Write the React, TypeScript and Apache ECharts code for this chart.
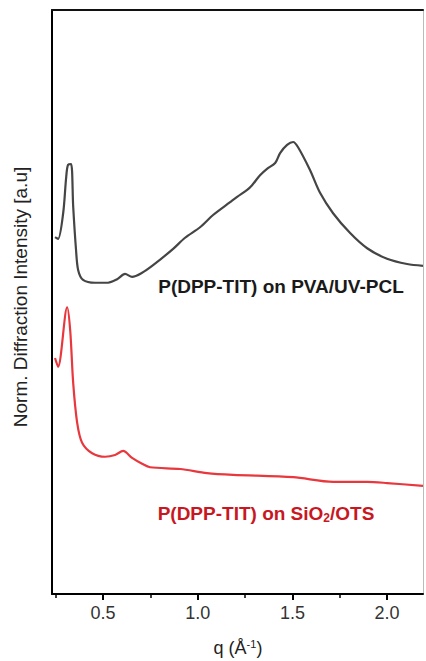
import React, { useEffect, useRef } from "react";
import * as echarts from "echarts";

const qBlack = [0.246, 0.262, 0.289, 0.305, 0.315, 0.331, 0.342, 0.357, 0.368, 0.394, 0.458, 0.526, 0.574, 0.616, 0.653, 0.706, 0.764, 0.87, 0.933, 1.012, 1.081, 1.171, 1.208, 1.261, 1.287, 1.329, 1.366, 1.409, 1.435, 1.472, 1.504, 1.53, 1.593, 1.646, 1.715, 1.805, 1.895, 2.0, 2.106, 2.19];
const iBlack = [61.1, 60.8, 65.2, 71.4, 73.5, 73.6, 66.3, 58.9, 55.5, 53.8, 53.3, 53.3, 53.9, 54.8, 54.3, 55.0, 56.3, 59.1, 61.0, 62.8, 64.9, 67.1, 68.0, 69.2, 70.0, 71.7, 72.8, 73.8, 75.5, 76.9, 77.4, 76.5, 72.6, 68.7, 65.2, 61.8, 59.2, 57.4, 56.5, 56.2];

const qRed = [0.246, 0.262, 0.31, 0.326, 0.342, 0.363, 0.389, 0.442, 0.511, 0.563, 0.606, 0.653, 0.706, 0.748, 0.907, 1.049, 1.187, 1.504, 1.715, 1.895, 2.0, 2.19];
const iRed = [40.4, 38.9, 49.1, 45.2, 36.1, 29.3, 25.9, 24.1, 23.5, 23.8, 24.5, 23.3, 22.3, 21.7, 21.4, 20.7, 20.4, 20.0, 19.2, 19.2, 19.0, 18.5];

const majorTicks = [0.5, 1.0, 1.5, 2.0];
const minorTicks = [0.25, 0.75, 1.25, 1.75];

const labelBlack = "P(DPP-TIT) on PVA/UV-PCL";
const yTitle = "Norm. Diffraction Intensity [a.u]";

const FONT = "'Liberation Sans', Arial, sans-serif";

export default function App() {
  const ref = useRef<HTMLDivElement>(null);
  useEffect(() => {
    if (!ref.current) return;
    const chart = echarts.init(ref.current, null, { renderer: "svg" });
    const xMin = 0.23;
    const xMax = 2.19;
    chart.setOption({
      animation: false,
      backgroundColor: "#ffffff",
      grid: { left: 52, top: 10, right: 3, bottom: 67, containLabel: false },
      xAxis: [
        {
          type: "value",
          min: xMin,
          max: xMax,
          position: "bottom",
          axisLine: { show: true, onZero: false, lineStyle: { color: "#000", width: 2 } },
          axisTick: { show: true, customValues: majorTicks, length: 6, inside: false, lineStyle: { color: "#000", width: 2 } },
          axisLabel: {
            show: true,
            customValues: majorTicks,
            formatter: (v: number) => v.toFixed(1),
            fontFamily: FONT,
            fontSize: 18,
            color: "#333",
            margin: 10,
          },
          splitLine: { show: false },
        },
        {
          type: "value",
          min: xMin,
          max: xMax,
          position: "bottom",
          offset: 0,
          axisLine: { show: false },
          axisTick: { show: true, customValues: minorTicks, length: 4, lineStyle: { color: "#000", width: 1.5 } },
          axisLabel: { show: false },
          splitLine: { show: false },
        },
        {
          type: "value",
          min: xMin,
          max: xMax,
          position: "top",
          axisLine: { show: true, onZero: false, lineStyle: { color: "#111", width: 2 } },
          axisTick: { show: false },
          axisLabel: { show: false },
          splitLine: { show: false },
        },
      ],
      yAxis: [
        {
          type: "value",
          min: 0,
          max: 100,
          position: "left",
          axisLine: { show: true, onZero: false, lineStyle: { color: "#000", width: 2 } },
          axisTick: { show: false },
          axisLabel: { show: false },
          splitLine: { show: false },
        },
        {
          type: "value",
          min: 0,
          max: 100,
          position: "right",
          axisLine: { show: true, onZero: false, lineStyle: { color: "#bbbbbb", width: 1 } },
          axisTick: { show: false },
          axisLabel: { show: false },
          splitLine: { show: false },
        },
      ],
      series: [
        {
          type: "line",
          xAxisIndex: 0,
          yAxisIndex: 0,
          data: qBlack.map((q, i) => [q, iBlack[i]]),
          showSymbol: false,
          smooth: 0.3,
          lineStyle: { color: "#454545", width: 2.2 },
        },
        {
          type: "line",
          xAxisIndex: 0,
          yAxisIndex: 0,
          data: qRed.map((q, i) => [q, iRed[i]]),
          showSymbol: false,
          smooth: 0.3,
          lineStyle: { color: "#e8383e", width: 2.2 },
        },
      ],
      graphic: [
        {
          type: "text",
          x: 281,
          y: 286,
          style: {
            text: labelBlack,
            fontFamily: FONT,
            fontWeight: "bold",
            fontSize: 19,
            fill: "#1a1a1a",
            align: "center",
            verticalAlign: "middle",
          },
        },
        {
          type: "text",
          x: 266,
          y: 513,
          style: {
            text: "{a|P(DPP-TIT) on SiO}{s|2}{a|/OTS}",
            align: "center",
            verticalAlign: "middle",
            rich: {
              a: { fontFamily: FONT, fontWeight: "bold", fontSize: 19, fill: "#c8171e", color: "#c8171e" },
              s: { fontFamily: FONT, fontWeight: "bold", fontSize: 12, fill: "#c8171e", color: "#c8171e", padding: [9, 0, 0, 0] },
            },
          },
        },
        {
          type: "text",
          x: 238,
          y: 648,
          style: {
            text: "{a|q (Å}{s|-1}{a|)}",
            align: "center",
            verticalAlign: "middle",
            rich: {
              a: { fontFamily: FONT, fontSize: 18, color: "#222", fill: "#222" },
              s: { fontFamily: FONT, fontSize: 11, color: "#222", fill: "#222", padding: [0, 0, 9, 0] },
            },
          },
        },
        {
          type: "text",
          x: 20,
          y: 297,
          rotation: Math.PI / 2,
          style: {
            text: yTitle,
            fontFamily: FONT,
            fontSize: 19,
            fill: "#222",
            align: "center",
            verticalAlign: "middle",
          },
        },
      ],
    });
    return () => chart.dispose();
  }, []);
  return <div ref={ref} style={{ width: 426, height: 661, position: "absolute", left: 0, top: 0 }} />;
}
